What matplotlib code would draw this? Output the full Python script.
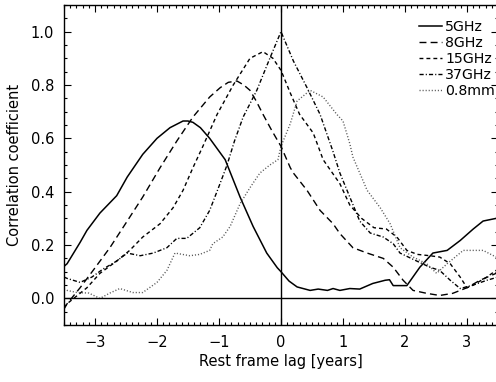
import matplotlib
matplotlib.use("Agg")
import matplotlib.pyplot as plt
from matplotlib.ticker import MultipleLocator

# values
lag_5 = [-3.5, -3.45, -3.24, -3.13, -2.92, -2.65, -2.48, -2.23, -2.0, -1.79, -1.58, -1.5, -1.42, -1.3,
         -1.15, -0.9, -0.66, -0.45, -0.23, -0.06, 0.0, 0.13, 0.26, 0.47, 0.6, 0.75, 0.84, 0.95, 1.11,
         1.27, 1.48, 1.68, 1.75, 1.81, 2.03, 2.24, 2.45, 2.68, 2.89, 3.1, 3.26, 3.47, 3.5]
cc_5 = [0.12, 0.13, 0.21, 0.255, 0.32, 0.385, 0.455, 0.54, 0.60, 0.64, 0.665, 0.665, 0.66, 0.64,
        0.60, 0.52, 0.38, 0.27, 0.17, 0.115, 0.10, 0.065, 0.043, 0.03, 0.035, 0.03, 0.037, 0.03, 0.037,
        0.035, 0.056, 0.068, 0.07, 0.048, 0.048, 0.117, 0.17, 0.18, 0.217, 0.26, 0.29, 0.30, 0.30]

lag_8 = [-3.5, -3.45, -3.24, -3.03, -2.76, -2.48, -2.23, -1.95, -1.68, -1.42, -1.15, -0.98, -0.85,
         -0.71, -0.6, -0.5, -0.4, -0.29, -0.15, 0.0, 0.15, 0.2, 0.42, 0.63, 0.84, 0.95, 1.16, 1.39,
         1.65, 1.81, 1.97, 2.13, 2.35, 2.56, 2.77, 3.0, 3.21, 3.47, 3.5]
cc_8 = [-0.04, -0.02, 0.04, 0.105, 0.19, 0.29, 0.38, 0.49, 0.59, 0.68, 0.755, 0.79, 0.81,
        0.815, 0.80, 0.78, 0.74, 0.69, 0.63, 0.57, 0.49, 0.47, 0.405, 0.33, 0.28, 0.243, 0.19, 0.17,
        0.15, 0.117, 0.068, 0.03, 0.019, 0.011, 0.019, 0.04, 0.068, 0.094, 0.095]

lag_15 = [-3.5, -3.45, -3.13, -2.92, -2.65, -2.44, -2.23, -1.95, -1.74, -1.58, -1.42, -1.26, -1.03,
          -0.77, -0.5, -0.29, -0.13, 0.0, 0.15, 0.3, 0.52, 0.68, 0.95, 1.11, 1.3, 1.5, 1.7, 1.87,
          2.03, 2.2, 2.4, 2.56, 2.73, 2.89, 3.0, 3.1, 3.32, 3.5]
cc_15 = [-0.035, -0.02, 0.04, 0.094, 0.14, 0.18, 0.23, 0.28, 0.34, 0.405, 0.49, 0.57, 0.69,
         0.80, 0.90, 0.925, 0.90, 0.855, 0.77, 0.69, 0.62, 0.52, 0.43, 0.35, 0.30, 0.265, 0.26, 0.23,
         0.18, 0.165, 0.16, 0.155, 0.13, 0.08, 0.04, 0.05, 0.08, 0.11]

lag_37 = [-3.5, -3.45, -3.24, -3.05, -2.87, -2.65, -2.48, -2.27, -2.06, -1.84, -1.68, -1.52, -1.31,
          -1.15, -1.0, -0.87, -0.75, -0.61, -0.39, -0.18, 0.0, 0.2, 0.42, 0.63, 0.84, 0.95, 1.11,
          1.27, 1.44, 1.65, 1.81, 1.92, 2.19, 2.4, 2.56, 2.73, 2.89, 3.1, 3.32, 3.5]
cc_37 = [0.08, 0.075, 0.06, 0.08, 0.11, 0.14, 0.17, 0.16, 0.17, 0.19, 0.225, 0.225, 0.265,
         0.33, 0.42, 0.50, 0.59, 0.68, 0.78, 0.90, 1.0, 0.89, 0.79, 0.69, 0.55, 0.47, 0.38,
         0.29, 0.245, 0.23, 0.205, 0.17, 0.14, 0.117, 0.105, 0.068, 0.037, 0.05, 0.068, 0.08]

lag_08mm = [-3.5, -3.45, -3.29, -3.1, -2.92, -2.76, -2.6, -2.39, -2.23, -2.0, -1.84, -1.71, -1.47,
            -1.31, -1.15, -1.1, -0.94, -0.82, -0.66, -0.5, -0.34, -0.18, -0.05, 0.0, 0.15, 0.26,
            0.47, 0.68, 0.9, 1.0, 1.11, 1.16, 1.39, 1.6, 1.76, 1.92, 2.13, 2.35, 2.51, 2.68, 2.94,
            3.26, 3.47, 3.5]
cc_08mm = [0.035, 0.03, 0.022, 0.02, 0.0, 0.02, 0.037, 0.022, 0.022, 0.06, 0.105, 0.17, 0.16,
           0.165, 0.18, 0.205, 0.23, 0.27, 0.355, 0.415, 0.47, 0.50, 0.52, 0.57, 0.655, 0.74,
           0.78, 0.755, 0.69, 0.665, 0.58, 0.53, 0.405, 0.34, 0.28, 0.19, 0.155, 0.13, 0.094, 0.13,
           0.18, 0.18, 0.155, 0.15]

labels = ["5GHz", "8GHz", "15GHz", "37GHz", "0.8mm"]

plt.rcParams['font.family'] = ['DejaVu Sans']
fig = plt.figure(figsize=(4.96, 3.82), dpi=100)
ax = fig.add_axes([0.129, 0.149, 0.875, 0.838])

ax.plot(lag_5, cc_5, color='black', lw=1.1, label=labels[0])
ax.plot(lag_8, cc_8, color='black', lw=1.0, dashes=(5, 3), label=labels[1])
ax.plot(lag_15, cc_15, color='black', lw=1.0, dashes=(2.8, 2.2), label=labels[2])
ax.plot(lag_37, cc_37, color='black', lw=1.0, dashes=(3, 1.5, 0.8, 1.5), label=labels[3])
ax.plot(lag_08mm, cc_08mm, color='0.35', lw=1.0, dashes=(0.8, 1.4), label=labels[4])

ax.axhline(0, color='black', lw=1.0)
ax.axvline(0, color='black', lw=1.0)

ax.set_xlim(-3.5, 3.5)
ax.set_ylim(-0.1, 1.1)
ax.xaxis.set_major_locator(MultipleLocator(1))
ax.xaxis.set_minor_locator(MultipleLocator(0.1))
ax.yaxis.set_major_locator(MultipleLocator(0.2))
ax.yaxis.set_minor_locator(MultipleLocator(0.05))
ax.yaxis.set_major_formatter(plt.FormatStrFormatter('%.1f'))
ax.tick_params(which='both', direction='in', top=True, right=True, labelsize=10.5, width=0.8)
ax.tick_params(which='major', length=5, pad=7)
ax.tick_params(which='minor', length=2.5)
for s in ax.spines.values():
    s.set_linewidth(1.0)

ax.set_xlabel("Rest frame lag [years]", fontsize=10.5, labelpad=3)
ax.set_ylabel("Correlation coefficient", fontsize=10.5, labelpad=6)

leg = ax.legend(loc='upper left', bbox_to_anchor=(0.795, 0.985), frameon=False, fontsize=10.2,
                handlelength=1.6, handletextpad=0.25, labelspacing=0.14, borderpad=0.2)

fig.savefig("out.png", dpi=100)
